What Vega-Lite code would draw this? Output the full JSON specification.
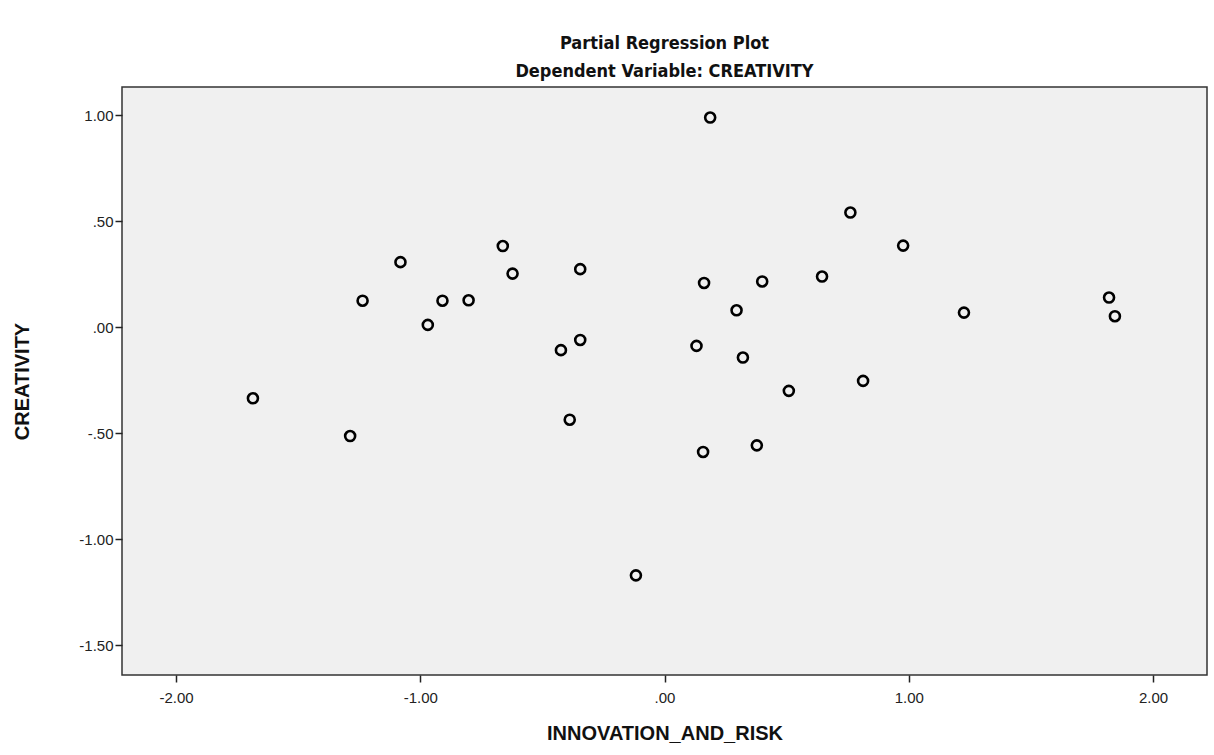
{
  "$schema": "https://vega.github.io/schema/vega-lite/v6.json",
  "autosize": {"type": "none"},
  "width": 1085,
  "height": 588,
  "padding": {"left": 122, "top": 87, "right": 7, "bottom": 80},
  "background": "white",
  "title": {
    "text": ["Partial Regression Plot", "Dependent Variable: CREATIVITY"],
    "font": "Liberation Sans Narrow, DejaVu Sans Condensed, Liberation Sans, Arial, sans-serif",
    "fontSize": 18,
    "fontWeight": "bold",
    "color": "#111",
    "lineHeight": 28,
    "anchor": "middle",
    "offset": 6
  },
  "config": {
    "view": {"fill": "#f0f0f0", "stroke": "#333", "strokeWidth": 1.5},
    "axis": {
      "grid": false,
      "domain": false,
      "tickColor": "#222",
      "tickWidth": 1.5,
      "tickSize": 7,
      "labelFont": "Liberation Sans, Arial, sans-serif",
      "labelFontSize": 15,
      "labelColor": "#222",
      "titleFont": "Liberation Sans, Arial, sans-serif",
      "titleFontSize": 20,
      "titleFontWeight": "bold",
      "titleColor": "#111"
    }
  },
  "data": {
    "values": [
      {"x": 0.187, "y": 0.989},
      {"x": 0.761, "y": 0.541},
      {"x": 0.977, "y": 0.385},
      {"x": -0.662, "y": 0.383},
      {"x": -1.081, "y": 0.307},
      {"x": -0.622, "y": 0.253},
      {"x": -0.345, "y": 0.274},
      {"x": 0.162, "y": 0.209},
      {"x": 0.400, "y": 0.216},
      {"x": 0.645, "y": 0.239},
      {"x": -1.236, "y": 0.125},
      {"x": -0.909, "y": 0.125},
      {"x": -0.802, "y": 0.127},
      {"x": 0.295, "y": 0.080},
      {"x": 1.226, "y": 0.069},
      {"x": 1.820, "y": 0.140},
      {"x": 1.844, "y": 0.052},
      {"x": -0.969, "y": 0.011},
      {"x": -0.424, "y": -0.108},
      {"x": -0.345, "y": -0.060},
      {"x": 0.131, "y": -0.088},
      {"x": 0.321, "y": -0.143},
      {"x": 0.509, "y": -0.300},
      {"x": 0.813, "y": -0.253},
      {"x": -1.685, "y": -0.335},
      {"x": -0.388, "y": -0.436},
      {"x": -1.287, "y": -0.513},
      {"x": 0.378, "y": -0.557},
      {"x": 0.158, "y": -0.588},
      {"x": -0.117, "y": -1.170}
    ]
  },
  "mark": {"type": "point", "shape": "circle", "filled": false, "stroke": "#000", "strokeWidth": 2.6, "size": 100, "opacity": 1},
  "encoding": {
    "x": {
      "field": "x",
      "type": "quantitative",
      "scale": {"domain": [-2.221, 2.221], "nice": false, "zero": false},
      "axis": {"title": "INNOVATION_AND_RISK", "values": [-2, -1, 0, 1, 2], "labelExpr": "replace(replace(format(datum.value, '.2f'), '\u2212', '-'), /^(-?)0\\./, '$1.')", "labelPadding": 8, "titlePadding": 18}
    },
    "y": {
      "field": "y",
      "type": "quantitative",
      "scale": {"domain": [-1.64, 1.133], "nice": false, "zero": false},
      "axis": {"title": "CREATIVITY", "values": [-1.5, -1, -0.5, 0, 0.5, 1], "labelExpr": "replace(replace(format(datum.value, '.2f'), '\u2212', '-'), /^(-?)0\\./, '$1.')", "labelPadding": 2, "titlePadding": 46}
    }
  }
}
